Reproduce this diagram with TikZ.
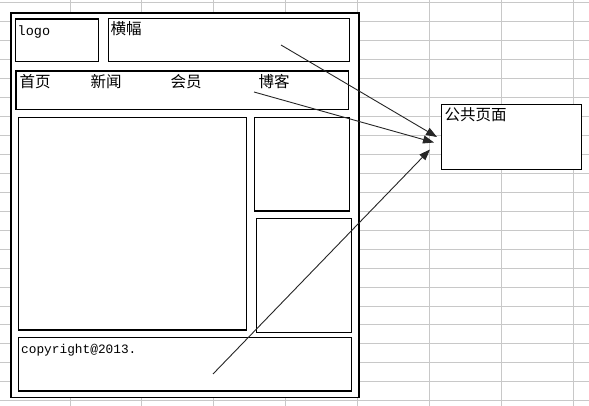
\documentclass[tikz,border=0pt]{standalone}
\usepackage{fontspec}
\newfontfamily\cjk{Noto Sans CJK SC}
\newfontfamily\mono{Liberation Mono}
\usetikzlibrary{arrows.meta}
\definecolor{gridc}{RGB}{200,200,200}
\begin{document}
\begin{tikzpicture}[x=1pt,y=-1pt,
  box/.style={draw=black,line width=1.5pt,fill=white,inner sep=0pt,outer sep=0pt,anchor=north west},
  cjklabel/.style={font=\cjk\fontsize{15.5}{15.5}\selectfont,inner sep=0pt,anchor=base west},
  monolabel/.style={font=\mono\fontsize{13}{13}\selectfont,inner sep=0pt,anchor=base west},
  link/.style={draw=black!85,line width=0.9pt,-{Triangle[length=11pt,width=8pt]}},
  gridline/.style={draw=gridc,line width=1pt}]
\useasboundingbox (0,0) rectangle (589,406);
\fill[white] (0,0) rectangle (589,406);
% spreadsheet grid
\foreach \i in {0,...,21} \draw[gridline] (0,{2.5+18.97*\i}) -- (589,{2.5+18.97*\i});
\foreach \i in {0,...,7} \draw[gridline] ({70+71.9*\i},0) -- ({70+71.9*\i},406);
% page frame and blocks
\node[box,line width=1.6pt,minimum width=348pt,minimum height=384pt] (frame) at (11,13.3) {};
\node[box,minimum width=83.4pt,minimum height=42.3pt] (logo) at (15.3,19) {};
\node[box,minimum width=241pt,minimum height=43pt] (banner) at (108.3,18.3) {};
\node[box,minimum width=332.3pt,minimum height=38.3pt] (nav) at (16,71) {};
\node[box,minimum width=228.4pt,minimum height=212.7pt] (main) at (18.3,117.3) {};
\node[box,minimum width=95pt,minimum height=93.7pt] (side1) at (254.3,117.3) {};
\node[box,minimum width=95.4pt,minimum height=114pt] (side2) at (256.3,218.3) {};
\node[box,minimum width=333.4pt,minimum height=53.7pt] (foot) at (18.3,337.3) {};
\node[box,minimum width=140.4pt,minimum height=65pt] (common) at (441.3,104.3) {};
% labels
\node[monolabel,font=\mono\fontsize{13.5}{13.5}\selectfont] (tlogo) at (17.5,35.5) {logo};
\node[cjklabel] (tbanner) at (110.5,34.5) {横幅};
\node[cjklabel] (tn1) at (19.5,88) {首页};
\node[cjklabel] (tn2) at (90.5,88) {新闻};
\node[cjklabel] (tn3) at (170.5,88) {会员};
\node[cjklabel] (tn4) at (258.5,88) {博客};
\node[monolabel,font=\mono\fontsize{12.8}{12.8}\selectfont] (tfoot) at (21,353.3) {copyright@2013.};
\node[cjklabel] (tcommon) at (444.5,120.5) {公共页面};
% connectors
\coordinate (s1) at (281,45);
\coordinate (s2) at (254,92);
\coordinate (s3) at (213,374);
\coordinate (e1) at (437,137);
\coordinate (e2) at (434,142.5);
\coordinate (e3) at (430,149.5);
\draw[link] (s1) -- (e1);
\draw[link] (s2) -- (e2);
\draw[link] (s3) -- (e3);
\end{tikzpicture}
\end{document}
